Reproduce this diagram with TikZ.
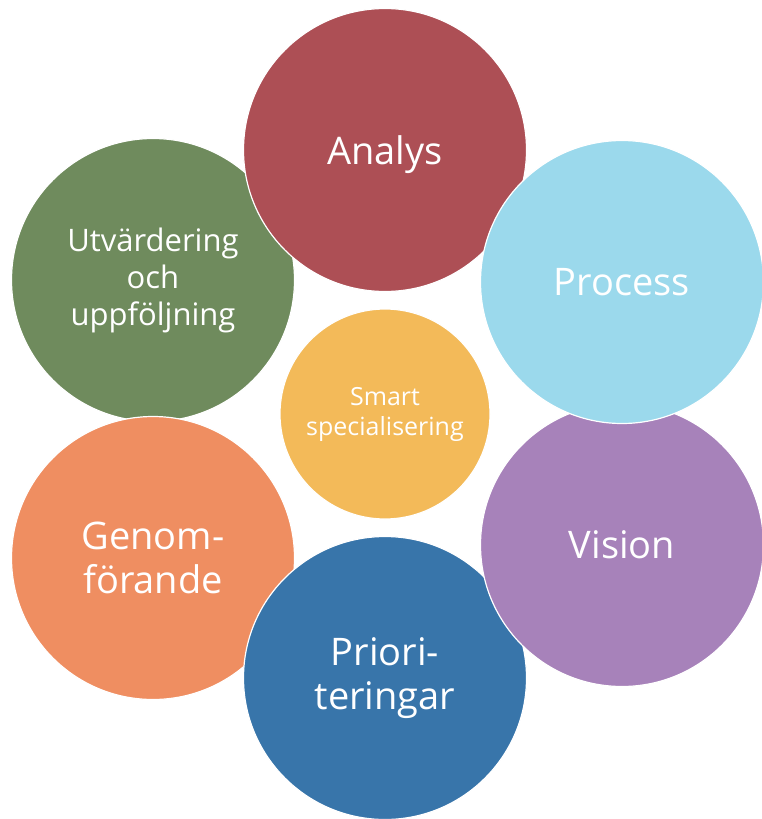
\documentclass[tikz,border=0pt]{standalone}
\usepackage{fontspec}
\setmainfont{Open Sans}
\usepackage{tikz}

\definecolor{analysred}{HTML}{AD4F55}
\definecolor{processblue}{HTML}{9BD9EC}
\definecolor{visionpurple}{HTML}{A782BA}
\definecolor{prioblue}{HTML}{3875AA}
\definecolor{genomorange}{HTML}{EF8E61}
\definecolor{utvgreen}{HTML}{6F8B5D}
\definecolor{smartyellow}{HTML}{F3BA59}

\tikzset{
  bubble/.style={circle, draw=white, line width=1.2pt, inner sep=0pt,
    minimum size=283pt, text=white, align=center,
    font=\fontsize{38}{44}\selectfont},
}

\begin{document}
\begin{tikzpicture}[x=1pt, y=-1pt]
  \useasboundingbox (0,0) rectangle (761,819);
  \node [bubble, fill=utvgreen, font=\fontsize{31}{37}\selectfont] (utv) at (153,280) {Utvärdering\\och\\uppföljning};
  \node [bubble, fill=genomorange] (genom) at (153,558) {Genom-\\förande};
  \node [bubble, fill=prioblue] (prio) at (385,678) {Priori-\\teringar};
  \node [bubble, fill=visionpurple] (vision) at (622,545) {Vision};
  \node [bubble, fill=analysred] (analys) at (385,150) {\raisebox{-5pt}[\height][\depth]{Analys}};
  \node [bubble, fill=processblue] (process) at (622,282) {Process};
  \node [bubble, fill=smartyellow, minimum size=210pt, font=\fontsize{25}{30}\selectfont] (smart) at (385,414) {Smart\\specialisering};
\end{tikzpicture}
\end{document}
